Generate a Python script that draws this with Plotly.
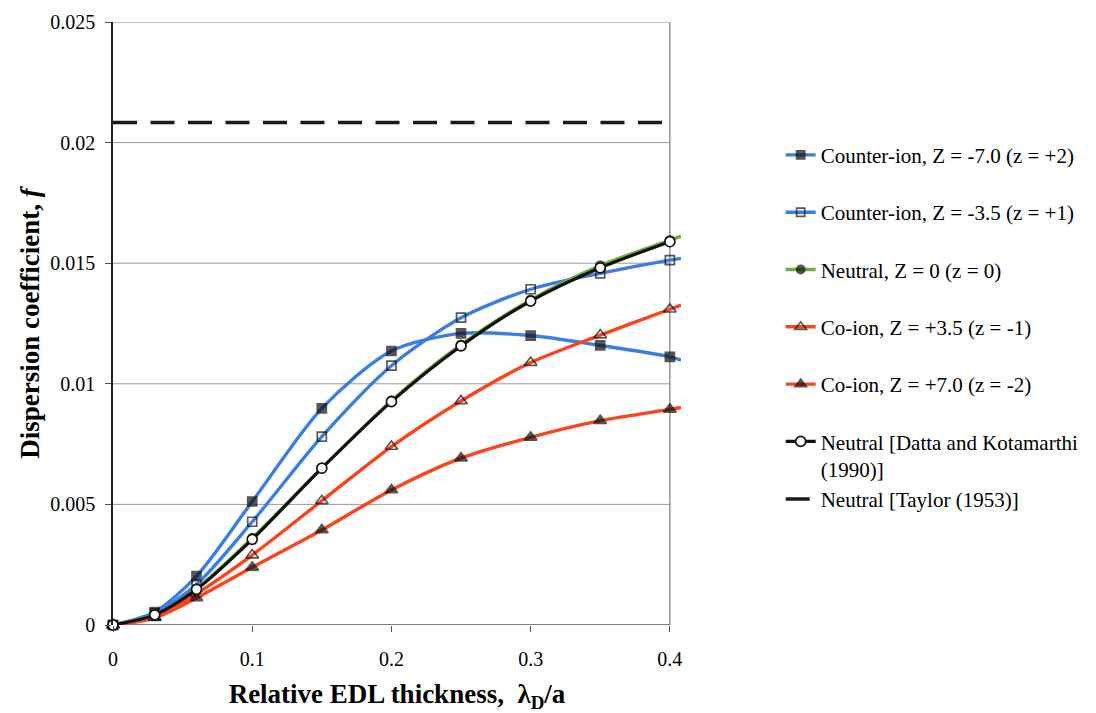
import plotly.graph_objects as go

# ---- data ----
x_pts = [0, 0.03, 0.06, 0.1, 0.15, 0.2, 0.25, 0.3, 0.35, 0.4]
x_end = 0.408  # curves run slightly past the last point

counter_z7 = [0, 0.00054, 0.00203, 0.00512, 0.00898, 0.01136, 0.01209, 0.01200, 0.01159, 0.01112]
counter_z7_end = 0.01098
counter_z35 = [0, 0.00048, 0.00168, 0.00428, 0.00781, 0.01075, 0.01274, 0.01392, 0.01458, 0.01513]
counter_z35_end = 0.01520
neutral = [0, 0.00042, 0.00150, 0.00360, 0.00650, 0.00930, 0.01162, 0.01348, 0.01490, 0.01595]
neutral_end = 0.01612
co_z35 = [0, 0.00032, 0.00130, 0.00290, 0.00515, 0.00740, 0.00929, 0.01088, 0.01202, 0.01309]
co_z35_end = 0.01326
co_z7 = [0, 0.00030, 0.00112, 0.00239, 0.00394, 0.00560, 0.00692, 0.00778, 0.00847, 0.00894]
co_z7_end = 0.00902
datta = [0, 0.00042, 0.00148, 0.00355, 0.00650, 0.00926, 0.01157, 0.01343, 0.01481, 0.01589]
taylor_x = [0, 0.4]
taylor = [0.020833, 0.020833]

x_ticks = [0, 0.1, 0.2, 0.3, 0.4]
x_ticktext = ["0", "0.1", "0.2", "0.3", "0.4"]
y_ticks = [0, 0.005, 0.01, 0.015, 0.02, 0.025]
y_ticktext = ["0", "0.005", "0.01", "0.015", "0.02", "0.025"]

names = [
    "Counter-ion, Z = -7.0 (z = +2)",
    "Counter-ion, Z = -3.5 (z = +1)",
    "Neutral, Z = 0 (z = 0)",
    "Co-ion, Z = +3.5 (z = -1)",
    "Co-ion, Z = +7.0 (z = -2)",
    "Neutral [Datta and Kotamarthi<br>(1990)]",
    "Neutral [Taylor (1953)]",
]

BLUE = "#3a7fdf"
GREEN = "#6caf3c"
RED = "#fa441c"
FONT = "Liberation Serif"

fig = go.Figure()


def curve(vals, end, name, color, symbol, msize, group):
    xs = x_pts + [x_end]
    ys = vals + [end]
    sizes = [msize] * len(x_pts) + [0]
    fig.add_trace(go.Scatter(
        x=xs, y=ys, name=name, mode="lines+markers",
        line=dict(color=color, width=3.4, shape="spline", smoothing=0.8),
        marker=dict(symbol=symbol, size=sizes, color="#111111",
                    line=dict(color="#111111", width=1.7)),
        cliponaxis=False, legendgroup=group,
    ))


curve(counter_z7, counter_z7_end, names[0], BLUE, "square", 9, "a")
curve(counter_z35, counter_z35_end, names[1], BLUE, "square-open", 9, "b")
curve(neutral, neutral_end, names[2], GREEN, "circle", 9, "c")
curve(co_z35, co_z35_end, names[3], RED, "triangle-up-open", 11, "d")
curve(co_z7, co_z7_end, names[4], RED, "triangle-up", 11, "e")

fig.add_trace(go.Scatter(
    x=x_pts, y=datta, name=names[5], mode="lines+markers",
    line=dict(color="#111111", width=3.2, shape="spline", smoothing=0.8),
    marker=dict(symbol="circle", size=10, color="white", line=dict(color="#111111", width=1.7)),
    cliponaxis=False, legendgroup="f",
))
fig.add_trace(go.Scatter(
    x=taylor_x, y=taylor, name=names[6], mode="lines",
    line=dict(color="#1a1a1a", width=3.5, dash="24px,13.5px"),
    legendgroup="f",
))

# gridlines and frame limited to the 0-0.4 box
shapes = []
for yv in y_ticks[1:-1]:
    shapes.append(dict(type="line", xref="x", yref="y", x0=0, x1=0.4, y0=yv, y1=yv,
                       line=dict(color="#9a9a9a", width=1), layer="below"))
shapes.append(dict(type="line", xref="x", yref="y", x0=0, x1=0.4, y0=0.025, y1=0.025,
                   line=dict(color="#8a8a8a", width=1.2), layer="below"))
shapes.append(dict(type="line", xref="x", yref="y", x0=0.4, x1=0.4, y0=0, y1=0.025,
                   line=dict(color="#7a7a7a", width=1.2), layer="below"))
shapes.append(dict(type="line", xref="x", yref="y", x0=0, x1=0.4, y0=0, y1=0,
                   line=dict(color="#555555", width=1.5), layer="below"))

fig.update_layout(
    width=1096, height=713,
    margin=dict(l=113, r=413, t=22, b=88),
    paper_bgcolor="white", plot_bgcolor="white",
    font=dict(family=FONT, color="black", size=20),
    shapes=shapes,
    showlegend=True,
    legend=dict(
        x=1.1755, y=0.813, xanchor="left", yanchor="top",
        font=dict(family=FONT, size=21, color="black"),
        tracegroupgap=27, valign="top", bgcolor="rgba(0,0,0,0)",
    ),
    xaxis=dict(
        range=[0, x_end], tickvals=x_ticks, ticktext=x_ticktext,
        showgrid=False, zeroline=False, showline=False, automargin=False,
        ticks="outside", ticklen=6, tickcolor="#555555",
        tickfont=dict(family=FONT, size=20), ticklabelstandoff=10,
        title=dict(text="<b>Relative EDL thickness,  λ<sub>D</sub>/a</b>",
                   font=dict(family=FONT, size=27), standoff=24),
    ),
    yaxis=dict(
        range=[0, 0.025], tickvals=y_ticks, ticktext=y_ticktext,
        showgrid=False, zeroline=False, showline=True, linecolor="#222222", linewidth=1.5,
        automargin=False,
        ticks="outside", ticklen=6, tickcolor="#555555",
        tickfont=dict(family=FONT, size=20), ticklabelstandoff=6,
        title=dict(text="<b>Dispersion coefficient, <i>f</i></b>",
                   font=dict(family=FONT, size=27), standoff=3),
    ),
)

fig.write_html("out.html")
